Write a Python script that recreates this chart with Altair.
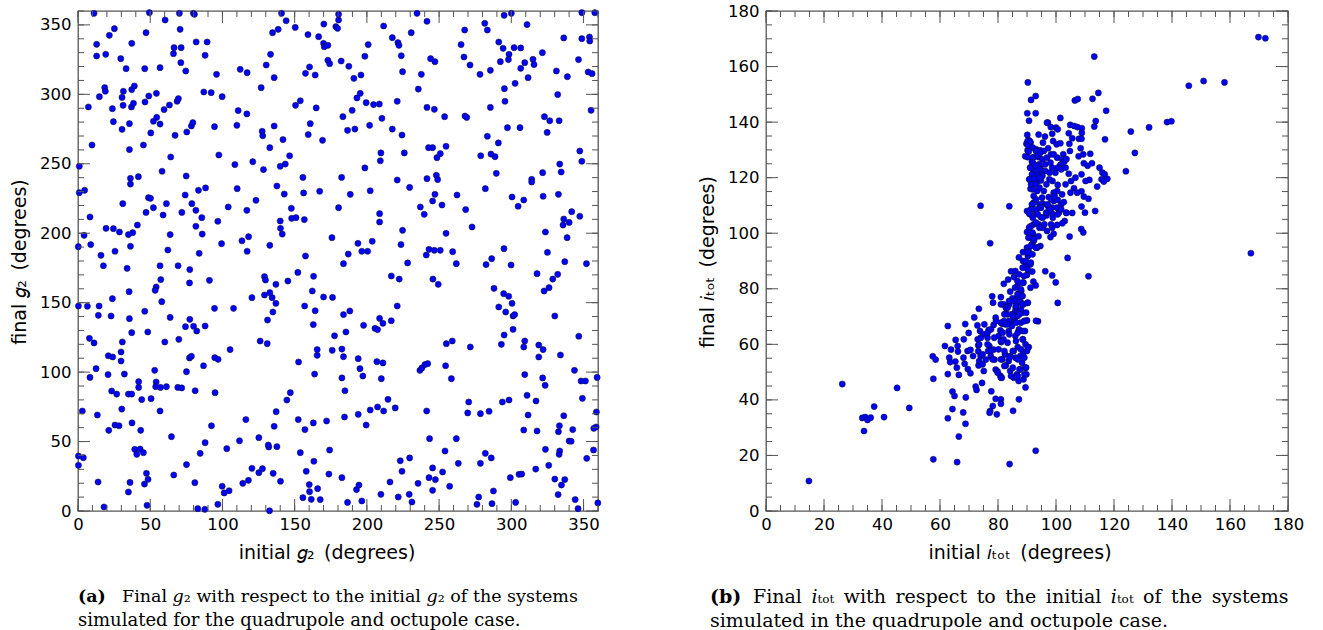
import altair as alt
import pandas as pd

# ---------------- left panel: initial g2 vs final g2 (degrees) ----------------
G2_INIT_A = [11.1,49.4,60.3,70.2,79.9,80.6,70.7,25.2,21.7,47.1,
12.9,12.9,19.2,37.2,29.6,33.3,46.2,56.8,66.5,71.4,
66.1,71.2,74.6,81.8,89.4,88.0,95.9,112.3,117.1,140.9,
144.1,150.4,138.6,134.7,159.2,166.6,170.0,170.5,173.0,170.2,
133.3,130.3,135.8,126.8,160.3,157.5,164.2,173.0,174.2,18.5,
18.9,14.8,7.2,23.8,31.4,30.5,31.2,37.0,38.4,37.2,
39.0,46.4,49.0,54.3,59.6,63.3,68.6,69.5,87.1,92.2,
99.8,24.5,30.5,35.6,52.2,54.5,56.8,50.4,67.2,75.3,
78.5,79.5,94.5,110.9,116.9,110.0,127.5,127.9,135.8,141.9,
150.6,153.9,164.9,160.8,159.4,169.3,9.7,35.6,45.3,64.2,
58.2,74.9,97.5,108.6,121.0,128.4,132.8,140.0,143.5,146.5,
155.7,0.9,0.9,4.6,8.3,4.2,8.8,0.2,15.9,19.4,
24.5,28.7,25.6,31.0,36.3,36.3,41.8,34.9,37.9,41.1,
36.3,48.8,50.2,52.2,47.1,58.9,61.2,63.8,62.2,71.9,
74.2,83.4,88.3,78.8,81.6,85.7,81.6,86.0,83.9,96.8,
99.4,104.0,110.2,116.9,123.2,113.5,118.1,117.1,132.8,137.7,
142.8,140.0,140.2,141.4,147.7,147.9,150.9,156.7,156.2,167.3,
175.8]
G2_FINAL_A = [358.3,358.8,353.5,358.3,358.3,357.6,346.8,347.3,342.5,344.4,
336.0,327.6,328.8,336.7,325.7,318.5,318.5,319.2,333.6,333.6,
329.3,322.8,316.8,337.7,337.7,328.1,314.4,318.0,315.6,358.3,
353.0,348.2,346.8,344.4,343.0,341.5,336.7,334.3,335.3,350.6,
328.8,321.1,312.0,304.8,319.7,315.1,313.9,324.5,322.1,304.8,
302.2,298.3,290.9,289.7,302.2,297.8,292.1,290.9,293.5,303.4,
306.0,294.5,298.8,300.7,289.0,292.3,295.0,296.9,301.7,301.2,
298.3,280.3,274.8,278.9,280.6,283.4,278.6,272.2,270.5,272.9,
277.2,279.6,276.7,288.3,285.9,277.7,273.4,270.2,277.2,267.4,
292.1,295.4,290.2,278.9,271.0,266.9,263.5,260.2,263.5,254.9,
244.6,241.2,256.3,249.4,251.5,245.8,261.6,248.2,249.8,255.8,
240.2,248.2,229.2,230.9,211.7,198.5,191.8,190.3,184.1,203.5,
203.3,200.9,187.0,221.3,239.5,235.4,240.7,199.0,200.4,205.9,
190.6,225.6,225.1,218.4,215.0,213.1,221.3,199.0,187.9,215.0,
227.5,230.9,232.6,221.3,216.5,211.2,205.0,199.4,185.5,208.6,
192.5,218.9,232.1,216.5,223.7,194.6,197.5,187.0,191.3,234.0,
228.2,208.8,203.5,199.4,217.9,210.7,211.2,209.8,229.0,230.2,
196.8]

G2_INIT_B = [180.4,180.4,178.5,179.7,234.7,241.6,211.6,230.7,217.6,221.5,
222.2,200.9,198.6,223.8,182.2,187.5,191.0,195.9,224.7,237.7,
244.1,247.1,235.6,193.1,195.4,199.5,204.6,208.6,221.0,210.4,
183.4,189.8,186.6,191.7,201.9,217.6,224.3,241.6,246.7,253.8,
267.9,269.1,267.7,265.2,267.2,271.4,281.6,283.4,278.3,285.5,
291.3,294.3,298.4,298.0,292.4,301.9,306.5,309.3,306.5,315.0,
315.7,311.6,302.6,310.9,295.0,300.0,321.5,331.2,336.3,338.8,
348.8,357.8,348.8,354.1,354.3,346.5,353.2,355.9,332.1,295.2,
295.6,285.5,322.9,326.6,333.1,324.8,355.2,297.3,306.0,283.4,
291.0,242.7,245.5,248.5,250.8,254.8,209.7,209.3,225.9,198.6,
182.5,221.0,229.6,241.6,248.1,249.0,278.8,285.9,288.7,289.6,
282.0,314.1,314.1,321.7,333.5,334.5,347.4,348.8,202.3,188.5,
180.4,208.8,208.8,224.7,223.6,237.0,239.7,245.5,247.1,252.0,
262.4,268.4,272.8,254.8,243.0,246.7,250.8,259.4,241.1,196.5,
200.5,187.1,193.8,203.7,294.9,300.5,304.7,308.6,322.0,332.6,
323.6,325.0,336.3,335.8,340.0,341.8,347.4,338.6]
G2_FINAL_B = [357.6,353.5,348.7,347.5,358.3,352.6,349.2,344.4,340.8,337.2,
335.3,335.8,327.4,327.8,324.0,320.2,311.5,313.9,316.3,314.4,
325.7,323.5,303.8,297.4,300.7,294.0,292.6,293.0,295.0,282.7,
283.9,288.5,274.1,275.0,277.7,275.0,270.7,290.6,289.2,283.9,
284.4,283.4,346.3,335.8,326.9,321.1,351.1,346.3,314.4,317.3,
337.7,333.1,328.8,325.0,323.5,333.6,333.4,322.8,318.7,325.2,
321.4,312.0,307.9,350.2,356.9,358.3,330.0,316.8,340.6,312.7,
358.8,358.8,340.1,341.3,338.4,325.0,316.1,314.9,299.8,304.1,
295.0,290.6,283.9,281.0,281.0,272.6,288.5,276.0,276.0,269.8,
265.0,261.6,261.6,254.4,257.3,262.6,257.8,252.2,257.8,247.0,
240.2,238.3,233.0,239.3,241.7,238.6,255.8,257.0,255.1,243.1,
232.1,238.8,236.9,243.6,249.8,244.1,259.2,251.8,230.6,228.0,
218.4,214.1,208.1,202.1,191.8,218.9,213.6,223.2,228.0,220.3,
227.5,217.0,204.5,199.9,188.4,187.7,187.7,186.7,184.3,187.0,
187.0,185.0,192.7,194.2,188.9,226.1,219.4,223.9,226.6,228.0,
200.9,186.2,210.2,205.9,207.8,215.5,212.2,196.8]

G2_INIT_C = [157.5,17.6,34.0,56.8,69.3,77.4,77.2,57.3,54.1,53.4,
91.0,35.4,58.0,23.8,0.3,6.5,14.6,14.1,22.9,46.2,
35.6,37.2,48.3,63.8,60.1,69.8,74.4,80.0,82.2,88.0,
77.4,94.5,107.7,105.3,7.9,11.1,21.0,24.0,29.8,30.7,
29.8,32.1,12.5,8.3,86.9,77.2,78.5,75.1,94.7,97.0,
20.8,23.3,26.8,34.9,37.2,42.0,42.0,44.1,50.6,53.1,
54.1,53.8,57.1,61.2,69.1,71.8,81.1,94.9,30.3,3.0,
13.4,21.3,25.6,28.4,37.4,43.4,56.8,64.7,92.4,116.2,
111.8,103.0,88.0,84.6,75.1,66.3,80.9,39.3,43.0,45.3,
40.7,13.9,36.0,34.9,47.4,48.5,46.0,47.8,18.0,87.8,
82.9,96.8,99.8,101.2,104.6,114.1,118.0,120.4,125.2,127.7,
135.1,140.2,137.7,132.1,131.7,135.8,137.2,125.2,120.4,129.1,
129.8,129.1,132.8,134.4,137.0,134.9,131.2,126.1,131.0,137.0,
145.3,152.2,163.1,162.2,170.0,156.9,164.2,162.9,177.6,176.0,
165.6,165.6,163.8,152.7,147.0,144.6,152.5,157.1,162.9,172.1,
153.9,163.3,158.0,174.2,173.7,160.1,165.9,160.3,161.5,167.7,
155.7,132.6,3.7,0.3,0.3]
G2_FINAL_C = [183.6,176.6,174.7,176.6,176.6,173.8,164.2,166.6,161.3,158.9,
166.1,157.9,150.7,152.9,147.6,147.4,147.6,140.9,140.4,143.8,
138.5,128.4,128.9,139.4,121.7,123.6,132.7,133.0,129.6,133.2,
138.0,145.9,145.9,116.2,124.3,121.0,111.8,110.9,114.5,121.7,
108.0,98.6,102.5,96.2,104.6,110.2,111.4,100.3,110.4,109.2,
98.2,86.4,84.2,84.2,84.2,93.1,89.0,80.2,80.9,101.3,
92.9,89.5,89.0,89.5,89.0,88.6,86.6,85.2,73.4,72.0,
69.1,58.1,61.9,61.4,63.4,58.1,72.0,53.5,61.4,65.8,
50.6,44.9,49.2,41.5,33.4,25.9,20.4,44.4,44.6,42.0,
40.8,20.9,20.6,13.7,27.1,22.8,19.4,4.1,2.9,1.2,
1.7,4.8,17.8,13.0,14.6,19.9,22.1,30.7,27.6,30.5,
27.1,21.4,46.3,46.1,47.5,61.0,71.5,52.8,153.6,168.7,
166.3,155.5,157.2,153.6,149.5,143.3,137.5,122.4,120.5,163.2,
165.6,171.8,169.0,158.4,154.1,147.6,144.2,134.2,126.2,115.7,
116.2,112.1,98.6,107.3,85.2,79.9,65.8,58.6,63.4,64.8,
42.0,35.8,28.6,43.9,26.6,19.0,16.1,13.9,8.4,8.2,
9.6,0.2,38.4,39.6,32.9]

G2_INIT_D = [183.8,228.2,216.9,222.4,245.7,249.4,261.9,282.5,286.4,299.8,
288.0,294.7,298.2,300.5,291.3,296.1,301.2,302.3,301.2,295.0,
293.1,317.8,322.7,326.1,328.7,332.1,337.0,352.0,330.1,346.7,
343.7,334.0,319.0,322.0,309.3,308.6,319.0,309.3,321.7,323.4,
348.3,351.3,359.4,349.2,358.9,358.7,357.1,342.5,340.0,341.4,
336.3,333.3,332.6,333.5,333.1,325.9,323.6,317.8,311.6,310.9,
317.1,308.6,176.2,183.8,188.2,185.5,197.7,205.6,207.4,208.8,
211.1,216.9,221.0,182.7,183.8,194.0,195.2,197.2,182.7,184.8,
206.9,211.1,210.0,184.5,194.0,202.3,199.5,207.4,211.6,214.6,
219.6,236.7,238.1,240.2,242.1,254.5,255.0,259.1,258.5,271.6,
270.5,269.8,278.6,284.6,293.8,298.4,241.4,243.4,261.9,254.1,
263.3,282.0,286.1,278.6,299.3,305.3,307.2,316.9,330.1,334.7,
337.0,332.4,344.2,346.2,352.2,356.9,359.9,182.7,192.8,194.5,
209.7,216.0,223.1,224.3,229.6,221.7,229.3,231.2,235.4,243.0,
245.5,247.4,245.5,252.4,257.3,186.6,196.5,276.2,277.4,287.6,
286.6,303.0]
G2_FINAL_D = [178.1,178.6,169.2,167.0,167.0,163.2,178.1,177.4,181.7,177.1,
160.3,156.5,154.6,149.5,146.9,143.3,140.4,141.4,130.8,126.7,
120.0,170.9,158.4,160.8,167.0,170.4,179.5,178.1,140.4,125.8,
101.3,112.3,119.5,116.2,122.4,118.1,110.9,98.2,95.8,90.5,
93.6,93.6,96.2,81.1,71.3,60.5,59.5,58.6,50.4,50.2,
68.6,61.4,57.1,43.2,40.8,32.9,44.4,57.6,69.1,83.3,
79.2,58.3,153.8,141.4,144.0,128.9,133.7,131.5,130.6,138.7,
135.1,137.0,147.6,116.6,111.1,109.7,102.5,97.2,95.8,86.6,
107.5,106.6,95.3,67.7,69.6,72.7,61.9,74.9,72.0,80.4,
74.2,101.3,103.0,105.4,106.1,104.6,120.5,122.4,95.3,118.1,
78.5,70.6,70.1,71.8,78.5,79.9,72.0,52.1,52.1,43.2,
34.3,41.5,38.2,34.3,24.0,26.4,26.6,30.2,23.0,18.7,
22.6,11.8,8.2,1.7,37.9,43.9,5.8,24.0,15.4,18.7,
12.0,20.9,36.2,28.6,38.2,10.1,12.0,6.5,19.9,24.0,
31.0,22.6,14.9,28.1,17.8,6.2,7.2,4.8,10.1,14.4,
5.3,6.2]

# ---------------- right panel: initial i_tot vs final i_tot (degrees) ----------------
ITOT_INIT_OUT = [169.8,172.2,113.2,90.3,145.8,150.9,158.1,91.4,93.0,106.5,
107.5,112.6,114.6,117.3,90.1,93.0,90.7,101.5,97.2,113.7,
113.2,125.8,132.1,138.3,139.8,116.9,127.2,124.1,74.0,83.9,
77.3,104.0,111.2,96.3,98.7,99.9,100.6,167.2,93.8,93.1]
ITOT_FINAL_OUT = [170.6,170.2,163.6,154.3,153.1,154.8,154.3,148.0,149.4,147.8,
148.3,148.4,150.5,144.1,143.2,143.2,140.5,141.5,139.8,140.4,
138.4,136.6,138.1,140.0,140.3,133.8,128.9,122.3,109.9,109.7,
96.4,91.1,84.5,86.3,84.8,82.3,74.9,92.8,68.3,68.5]

ITOT_INIT_LOW = [26.3,45.2,49.4,37.3,33.2,34.2,35.0,36.1,40.7,33.8,
14.8,57.7,65.9,84.0,93.0,66.5,68.8,62.7,64.3,68.0,
68.9,64.3,65.0,72.3,72.6,74.5,77.7,79.2,81.0,81.0,
78.2,77.3,77.1,79.6,85.2,87.2,89.5,62.7,57.7,57.5,
58.5,62.7,61.7,68.7,69.9,68.2,65.4,71.8,73.4,66.1,
66.2,63.8,63.2,63.5,65.3,65.8,66.5,68.1,68.5,69.6,
70.5,69.5,70.5,71.4,73.2,73.3,75.1,73.5,74.0,73.0,
73.2,73.8,74.9,72.9,76.8,76.4,77.0,76.6,75.8,77.5,
78.8,78.5,79.2,79.8,80.8,81.3,82.7,81.5,82.4,80.2,
81.1,81.9,80.2,80.8,81.5,78.5,79.2,78.0,78.3,81.0,
81.9,82.0,83.5,84.5,85.5,86.0,87.2,88.6,88.6,90.3,
89.5,91.2,91.8,92.2,93.0,90.0,86.7,87.2,84.2,85.0,
83.9,82.7,84.8,86.0,85.4,84.8,83.7,82.5,86.0,87.2,
88.5,89.1,90.0,88.6,89.5,90.6,86.8,85.4,84.2,83.7,
86.0,87.7,88.8,90.0,88.3,89.4,87.7,86.5,85.4,84.2,
87.1,88.8,89.8,87.7,88.8,90.1,88.3,88.8,91.2,88.0,
86.8]
ITOT_FINAL_LOW = [45.7,44.3,37.1,37.6,33.5,33.8,32.8,33.6,33.8,28.8,
10.8,18.6,17.6,16.9,21.7,26.8,31.4,33.4,36.7,35.5,
40.9,43.0,41.4,44.8,43.6,46.1,43.1,40.4,40.2,38.6,
37.8,36.0,35.4,34.8,36.1,40.2,44.5,49.3,47.6,55.7,
54.5,66.6,59.4,67.3,64.1,61.8,61.6,69.7,72.8,59.4,
57.4,58.1,55.2,53.6,53.8,51.6,49.0,55.2,53.0,51.1,
49.6,57.6,58.0,55.8,57.5,52.4,50.4,54.0,55.8,61.8,
59.6,64.8,63.6,66.8,65.2,62.4,59.4,57.6,54.5,55.7,
54.5,58.1,50.9,50.3,48.7,48.0,52.4,54.6,56.4,58.2,
60.8,61.8,63.0,65.0,67.4,67.0,69.6,77.3,75.0,77.0,
74.4,81.8,83.3,86.3,84.2,86.4,91.3,93.2,90.0,91.8,
88.3,88.8,86.2,82.6,81.2,85.0,81.0,78.4,79.0,76.6,
74.4,71.2,70.8,72.0,68.2,66.6,64.8,67.2,63.0,65.4,
64.8,68.4,68.6,61.8,60.0,59.0,59.0,57.6,55.8,54.0,
55.2,55.8,57.0,57.6,53.4,51.6,51.0,49.2,48.0,50.4,
46.8,47.4,49.2,75.6,74.4,74.9,71.4,82.2,80.4,79.2,
76.8]

ITOT_INIT_UP = [90.1,90.7,89.8,91.2,90.2,89.4,92.3,91.7,91.2,92.3,
90.9,91.7,91.2,94.0,93.2,94.6,95.8,94.0,95.3,96.3,
93.2,94.6,93.7,95.3,96.3,97.8,98.7,99.0,97.3,98.3,
98.1,100.0,98.2,96.9,96.2,100.2,101.5,102.5,102.1,101.5,
102.9,103.6,104.8,104.6,104.4,104.9,106.3,107.4,108.9,108.9,
107.9,108.8,105.6,108.5,107.8,109.4,111.8,109.6,110.9,112.4,
115.0,116.0,116.8,117.7,115.7,116.5,114.2,111.5,110.2,108.8,
106.7,105.2,104.4,103.3,106.2,105.0,107.3,108.8,109.6,111.2,
102.1,100.4,98.8,97.7,96.7,95.8,97.5,99.2,100.6,99.2,
100.6,101.8,102.7,100.3,98.7,97.2,95.5,94.3,92.3,91.7,
90.0,91.2,93.2,94.8,96.7,98.7,101.0,103.6,105.6,108.8,
110.0,113.5,103.0,102.2,100.4,98.7,96.9,95.5,94.0,92.3,
90.9,90.0,92.1,91.2,94.0,92.3,94.6,93.5,91.7,90.0,
90.6,99.2,98.1,108.7,109.4,104.7,94.6,95.2,93.5,92.3,
93.7,92.1,94.8,99.8,100.6,101.8,100.4,99.2,103.3,98.7,
100.6,94.2,96.9,95.5,94.6]
ITOT_FINAL_UP = [135.4,133.4,132.2,132.5,129.8,127.7,127.4,125.8,123.6,122.4,
119.4,117.6,116.0,135.5,130.2,129.8,129.6,127.4,126.6,124.8,
124.2,123.6,121.2,120.6,122.4,121.8,123.6,133.2,130.6,128.4,
125.4,138.0,138.2,139.8,134.8,132.0,132.4,128.4,126.6,124.6,
125.8,126.7,129.6,132.2,136.0,139.0,138.6,138.2,137.8,136.1,
134.0,134.0,134.2,130.6,127.7,128.4,128.6,125.2,124.3,125.2,
123.6,121.8,121.2,119.6,119.4,118.6,116.8,119.2,118.8,121.2,
120.0,118.8,121.4,117.6,116.2,114.6,114.6,115.1,113.2,112.4,
114.0,115.2,118.8,119.4,117.6,115.2,113.0,114.6,117.4,111.6,
112.0,110.4,111.2,109.2,109.2,109.8,110.6,110.4,111.0,109.2,
108.0,106.8,107.4,105.8,106.4,107.0,107.4,107.3,107.3,109.6,
107.4,108.0,104.4,103.6,103.0,102.0,100.8,102.0,103.2,103.2,
102.2,100.4,99.6,98.4,98.9,97.2,95.4,94.8,96.0,94.8,
93.6,99.8,98.6,101.5,100.3,98.8,109.2,112.8,115.2,113.4,
118.8,119.4,119.0,121.8,123.6,123.0,127.2,128.4,123.6,135.8,
137.4,124.8,127.2,132.6,122.4]

ITOT_INIT_CORE1 = [90.2,91.1,90.5,92.0,90.6,93.1,90.2,92.0,93.7,94.6,
92.0,91.1,93.1,94.3,91.7,90.8,92.5,94.3,91.4,93.1,
92.0,94.3,93.1,91.7,91.4,92.9,90.8,92.0,93.7,94.8,
95.4,93.1,91.4,94.3,96.0,96.6,97.7,97.1,98.3,99.5,
98.9,98.3,100.6,101.8,103.5]
ITOT_FINAL_CORE1 = [133.2,133.0,131.4,130.8,129.4,129.6,127.4,127.2,127.8,129.0,
125.4,123.6,124.2,123.0,121.2,119.4,119.6,120.0,117.6,117.6,
115.8,116.4,112.2,110.4,108.6,108.6,107.0,105.6,106.8,109.2,
105.6,103.8,102.6,102.0,103.2,107.4,108.6,110.4,112.2,113.4,
105.6,103.2,106.8,108.6,107.4]

ITOT_INIT_CORE2 = [90.8,91.9,90.5,92.5,91.3,93.1,90.2,91.9,89.6,91.3,
88.5,90.2,87.3,89.0,86.7,88.5,85.9,87.9,86.7,88.5,
85.6,87.3,86.1,87.9,85.0,86.7,85.9,87.9,83.8,83.3,
82.1,82.7,83.8]
ITOT_FINAL_CORE2 = [102.0,100.2,98.4,97.8,95.4,94.8,93.0,92.4,90.0,89.4,
87.6,87.0,85.2,84.6,82.8,82.2,80.4,79.8,78.0,77.4,
75.6,75.0,73.2,72.6,70.8,70.2,68.4,67.8,68.4,70.8,
68.4,73.2,75.6]

ITOT_INIT_CORE3 = [81.0,83.3,86.2,88.5,90.3,82.2,85.1,87.4,89.7,81.0,
83.3,86.2,89.1,81.6,83.9,86.8,89.3,81.0,83.3,86.2,
88.5,82.2,85.1,87.9,90.3,81.0,83.9,86.8,89.1,82.2,
85.1,87.4,89.7,84.5,86.8,89.1,76.4,77.6,74.7,78.1,
78.7,76.4,75.3,77.6,79.3,74.1,73.5,74.7,79.9,81.0]
ITOT_FINAL_CORE3 = [74.4,73.2,73.8,74.4,75.0,70.8,70.2,70.8,71.4,67.8,
67.2,67.8,68.4,64.2,63.6,64.2,64.8,61.2,60.6,61.2,
61.8,57.6,57.6,58.2,58.8,54.6,55.2,54.6,55.2,52.2,
51.6,51.0,51.6,48.6,48.6,49.2,60.0,57.6,56.4,54.6,
62.4,64.2,67.2,65.4,68.4,62.4,60.0,52.8,49.8,48.0]

# ---------------- tick values ----------------
G2_MAJOR = [0, 50, 100, 150, 200, 250, 300, 350]
G2_MINOR = list(range(0, 361, 10))
ITOT_MAJOR = [0, 20, 40, 60, 80, 100, 120, 140, 160, 180]
ITOT_MINOR = list(range(0, 181, 5))

# ---------------- styling ----------------
SANS = "DejaVu Sans"
SERIF = "DejaVu Serif"
FRAME = "#555555"
W_L, W_R, H = 520, 522, 500
MAJ_LEN, MIN_LEN = 12, 6
CAP_L, CAP_R = 17.5, 19
EN = "\u2002"
ONE = pd.DataFrame({"k": [0]})


def text(s, x, y, size, font=SANS, weight="normal", angle=0, align="left"):
    return alt.Chart(ONE).mark_text(
        text=s, font=font, fontSize=size, fontWeight=weight, angle=angle,
        align=align, baseline="middle", color="black"
    ).encode(x=alt.value(x), y=alt.value(y))


def panel(xs, ys, dom, major, minor, width, texts):
    xsc = alt.Scale(domain=[0, dom], nice=False, zero=False)
    ysc = alt.Scale(domain=[0, dom], nice=False, zero=False)
    common = dict(values=major, ticks=False, domain=False, grid=False,
                  title=None, labelFont=SANS, labelFontSize=16.5, labelColor="black",
                  labelFlush=False, labelOverlap=False)
    xaxis = alt.Axis(labelPadding=5, **common)
    yaxis = alt.Axis(labelPadding=7, **common)
    pts = alt.Chart(pd.DataFrame({"xi": xs, "yf": ys})).mark_circle(
        size=38, color="#0000ff", opacity=1, stroke="#141414", strokeWidth=0.5
    ).encode(
        x=alt.X("xi:Q", scale=xsc, axis=xaxis),
        y=alt.Y("yf:Q", scale=ysc, axis=yaxis),
    )
    layers = []
    for vals, ln in ((minor, MIN_LEN), (major, MAJ_LEN)):
        base = alt.Chart(pd.DataFrame({"v": vals})).mark_rule(color=FRAME, strokeWidth=1)
        layers += [
            base.encode(x=alt.X("v:Q", scale=xsc, axis=xaxis), y=alt.value(H), y2=alt.value(H - ln)),
            base.encode(x=alt.X("v:Q", scale=xsc, axis=xaxis), y=alt.value(0), y2=alt.value(ln)),
            base.encode(y=alt.Y("v:Q", scale=ysc, axis=yaxis), x=alt.value(0), x2=alt.value(ln)),
            base.encode(y=alt.Y("v:Q", scale=ysc, axis=yaxis), x=alt.value(width), x2=alt.value(width - ln)),
        ]
    layers = [pts] + layers + texts
    return alt.layer(*layers).properties(width=width, height=H)


right_line1 = "Final 𝑖ₜₒₜ with respect to the initial 𝑖ₜₒₜ of the systems".replace(" ", EN)

left_texts = [
    text("final 𝑔₂\u2002(degrees)", -58, 251, 19, angle=270, align="center"),
    text("initial 𝑔₂\u2002(degrees)", 249, 542, 19, align="center"),
    text("(a)", 0, 586, CAP_L, font=SERIF, weight="bold"),
    text("Final 𝑔₂ with respect to the initial 𝑔₂ of the systems", 44, 586, CAP_L, font=SERIF),
    text("simulated for the quadrupole and octupole case.", 0, 610, 18, font=SERIF),
]
right_texts = [
    text("final 𝑖ₜₒₜ\u2002(degrees)", -58, 251, 19, angle=270, align="center"),
    text("initial 𝑖ₜₒₜ\u2002(degrees)", 254, 542, 19, align="center"),
    text("(b)", -56, 586, CAP_R, font=SERIF, weight="bold"),
    text(right_line1, -13, 586, CAP_R, font=SERIF),
    text("simulated in the quadrupole and octupole case.", -56, 610, CAP_R, font=SERIF),
]

left = panel(G2_INIT_A + G2_INIT_B + G2_INIT_C + G2_INIT_D,
             G2_FINAL_A + G2_FINAL_B + G2_FINAL_C + G2_FINAL_D,
             360, G2_MAJOR, G2_MINOR, W_L, left_texts)
right = panel(ITOT_INIT_OUT + ITOT_INIT_LOW + ITOT_INIT_UP + ITOT_INIT_CORE1 + ITOT_INIT_CORE2 + ITOT_INIT_CORE3,
              ITOT_FINAL_OUT + ITOT_FINAL_LOW + ITOT_FINAL_UP + ITOT_FINAL_CORE1 + ITOT_FINAL_CORE2 + ITOT_FINAL_CORE3,
              180, ITOT_MAJOR, ITOT_MINOR, W_R, right_texts)

chart = alt.hconcat(left, right, spacing=95).properties(
    padding={"left": 10, "top": 2, "right": 0, "bottom": 0}
).configure_view(stroke=FRAME, strokeWidth=1.3)

chart.save("out.html", embed_options={"renderer": "svg", "actions": False})
